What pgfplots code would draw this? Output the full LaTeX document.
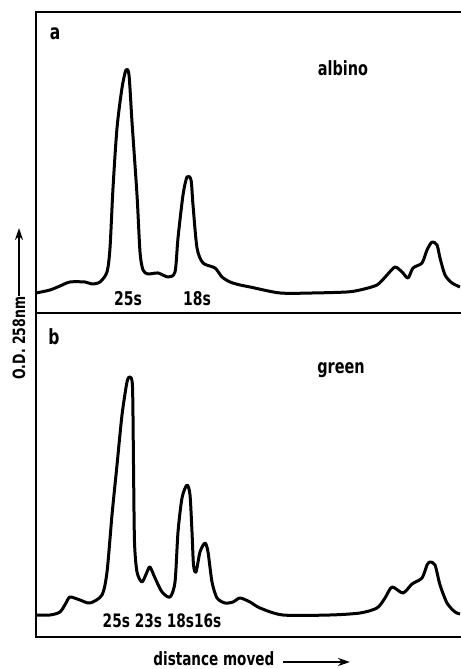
\documentclass[border=0pt]{standalone}
\usepackage{pgfplots}
\pgfplotsset{compat=1.18}
\usetikzlibrary{arrows.meta}
\usepackage{fontspec}
\setmainfont[FakeStretch=0.74]{DejaVu Sans}
\begin{document}
\begin{tikzpicture}[x=0.5bp,y=0.5bp]
\useasboundingbox (0,0) rectangle (461,669);
\pgfplotsset{panel/.style={anchor=south west, scale only axis, width=212.5bp,
  xmin=36, xmax=461, ymin=0, axis line style={draw=none}, ticks=none, clip=false},
  curve/.style={black, line width=1.5bp, smooth, tension=0.45, no marks, line join=round}}
% panel a
\begin{axis}[panel, at={(36,356)}, height=150.5bp, ymax=301]
\addplot[curve] coordinates {
(36,20)(50,23)(60,27)(70,31)(85,31)(92,29)(100,31)(107,41)(110,65)(113,125)(117,185)
(122,225)(126,243)(129,238)(132,191)(137,118)(140,61)(143,43)(148,39)(158,40)(168,36)
(175,41)(178,75)(183,118)(187,136)(191,133)(193,108)(197,65)(203,50)(215,45)(222,36)
(230,31)(240,28)(250,26)(280,20)(313,20)(347,21)(360,23)(377,28)(387,38)(395,46)(402,41)
(408,35)(413,45)(422,50)(427,63)(432,71)(437,68)(440,55)(445,38)(452,30)(460,26)};
\node[font=\bfseries\fontsize{10.5}{12}\selectfont] at (axis cs:55,279) {a};
\node[font=\bfseries\fontsize{9.8}{11}\selectfont] at (axis cs:343,245) {albino};
\node[font=\bfseries\fontsize{9.5}{11}\selectfont] at (axis cs:128,14) {25s};
\node[font=\bfseries\fontsize{9.5}{11}\selectfont] at (axis cs:197,14) {18s};
\end{axis}
% panel b
\begin{axis}[panel, at={(36,32)}, height=162bp, ymax=324]
\addplot[curve] coordinates {
(36,22)(50,22)(60,25)(66,34)(70,40)(80,37)(90,34)(102,42)(107,65)(112,122)(117,172)
(122,222)(127,255)(130,260)(132.5,250)(133.5,172)(134.5,95)(137,65)(142,55)(147,65)
(150,70)(155,59)(162,45)(170,40)(175,55)(178,105)(182,139)(187,152)(190,142)(192,105)
(193.5,72)(196,65)(200,85)(205,94)(208,85)(212,55)(217,39)(225,34)(233,35)(240,39)
(250,35)(260,29)(283,22)(330,22)(360,24)(377,29)(385,39)(392,50)(403,44)(412,53)
(422,59)(427,72)(430,75)(435,72)(440,52)(447,34)(455,25)(460,23)};
\node[font=\bfseries\fontsize{10.5}{12}\selectfont] at (axis cs:54,300) {b};
\node[font=\bfseries\fontsize{9.8}{11}\selectfont] at (axis cs:341,267) {green};
\node[font=\bfseries\fontsize{9.3}{11}\selectfont] at (axis cs:162,16) {25s 23s 18s16s};
\end{axis}
% frame
\draw[line width=1bp] (461,657) -- (36,657) -- (36,32) -- (461,32);
\draw[line width=1bp] (36,356) -- (461,356);
% axis labels
\node[rotate=90, inner sep=0pt, font=\bfseries\fontsize{8.5}{10}\selectfont] at (19,331) {O.D. 258nm};
\draw[line width=1.3bp, -{Stealth[length=6bp,width=4bp]}] (19,373) -- (19,441);
\node[anchor=base west, inner sep=0pt, font=\bfseries\fontsize{9.2}{11}\selectfont] at (153,3) {distance moved};
\draw[line width=1.3bp, -{Stealth[length=6bp,width=4bp]}] (283,7) -- (350,7);
\end{tikzpicture}
\end{document}
